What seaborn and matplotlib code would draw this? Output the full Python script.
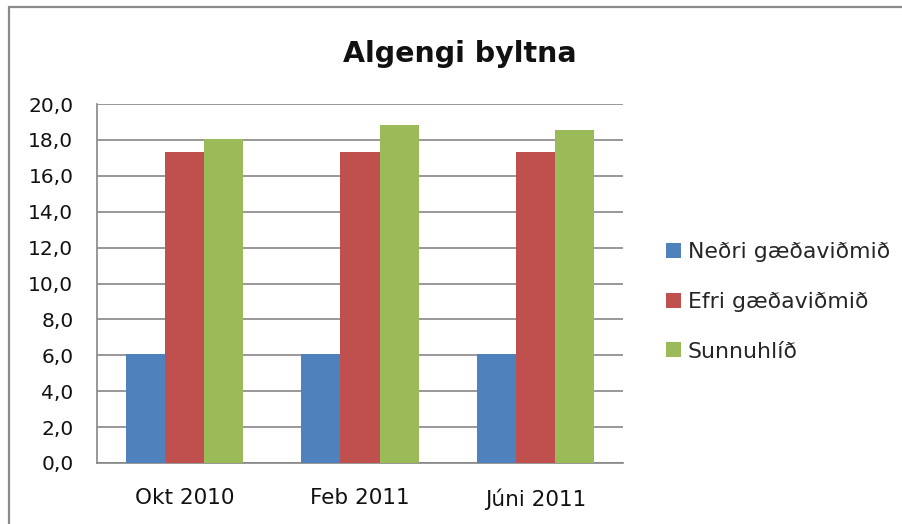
import matplotlib.pyplot as plt
import pandas as pd
import seaborn as sns
from matplotlib.lines import Line2D

# Values
categories = ["Okt 2010", "Feb 2011", "Júni 2011"]
series = ["Neðri gæðaviðmið", "Efri gæðaviðmið", "Sunnuhlíð"]
nedri = [6.1, 6.1, 6.1]
efri = [17.33, 17.33, 17.33]
sunnuhlid = [18.05, 18.82, 18.56]
colors = ["#4F81BD", "#C0504D", "#9BBB59"]
yticks = [0, 2, 4, 6, 8, 10, 12, 14, 16, 18, 20]

df = pd.DataFrame({
    "period": categories * 3,
    "series": [series[0]] * 3 + [series[1]] * 3 + [series[2]] * 3,
    "value": nedri + efri + sunnuhlid,
})

sns.set_theme(style="white")
plt.rcParams["font.family"] = ["DejaVu Sans"]
grey = "#868686"

fig = plt.figure(figsize=(9.03, 5.24), dpi=100)
# chart border (only left and top edges are inside the image)
fig.add_artist(Line2D([8.5 / 903, 8.5 / 903], [0, 1 - 6.5 / 524], transform=fig.transFigure,
                      color="#898989", linewidth=1.6))
fig.add_artist(Line2D([8.5 / 903, 1], [1 - 6.5 / 524, 1 - 6.5 / 524], transform=fig.transFigure,
                      color="#898989", linewidth=1.6))

ax = fig.add_axes([97 / 903, 1 - 463 / 524, 526 / 903, 359 / 524])

sns.barplot(data=df, x="period", y="value", hue="series", palette=colors,
            width=0.67, saturation=1, linewidth=0, edgecolor="none", ax=ax, zorder=3)

ax.set_ylim(0, 20)
ax.set_xlim(-0.5, 2.5)
ax.set_yticks(yticks)
ax.set_yticklabels([f"{v:.1f}".replace(".", ",") for v in yticks], fontsize=14.5, color="#111111")
ax.yaxis.grid(True, color=grey, linewidth=1.2, zorder=0)
ax.set_axisbelow(True)
ax.set_xlabel("")
ax.set_ylabel("")
ax.tick_params(axis="x", which="major", length=0, labelsize=15.5, labelcolor="#111111", pad=18)
ax.set_xticks([-0.5, 0.5, 1.5, 2.5], minor=True)
ax.tick_params(axis="x", which="minor", length=5, color=grey, width=1.2, direction="out")
ax.tick_params(axis="y", length=5, color=grey, width=1.2, direction="out", pad=12)
for side in ["top", "right"]:
    ax.spines[side].set_visible(False)
for side in ["left", "bottom"]:
    ax.spines[side].set_color(grey)
    ax.spines[side].set_linewidth(1.2)

fig.text(460 / 903, 1 - 62 / 524, "Algengi byltna", ha="center", va="baseline",
         fontsize=20.5, fontweight="bold", color="#111111")

handles, labels = ax.get_legend_handles_labels()
ax.legend(handles, labels, loc="center left", bbox_to_anchor=(666 / 903, 1 - 302 / 524),
          bbox_transform=fig.transFigure, frameon=False, fontsize=15.8,
          handlelength=0.68, handleheight=0.68, handletextpad=0.3,
          labelspacing=1.35, borderpad=0, borderaxespad=0)

fig.savefig("out.png", dpi=100)
